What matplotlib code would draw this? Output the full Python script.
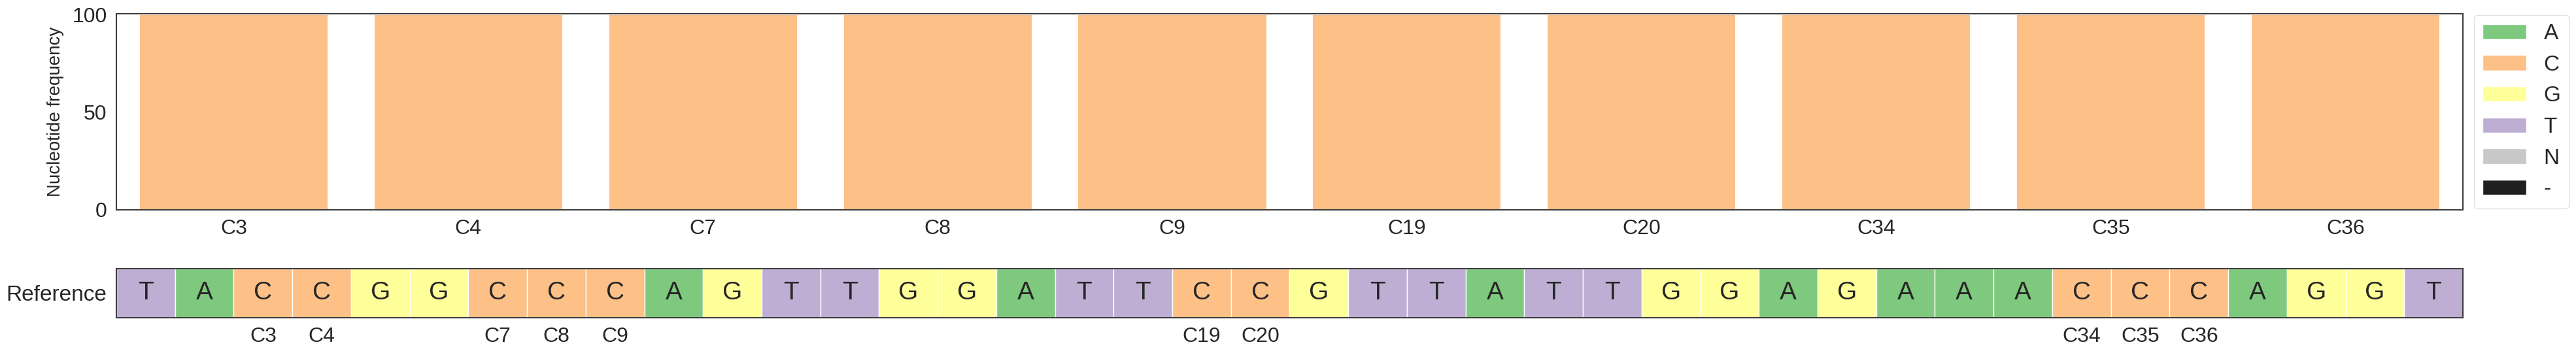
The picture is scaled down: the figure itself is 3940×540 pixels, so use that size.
import matplotlib
matplotlib.use("Agg")
import matplotlib.pyplot as plt
from matplotlib.patches import Patch

plt.rcParams.update({
    "font.family": ["Liberation Sans", "DejaVu Sans"],
    "text.color": "#262626",
    "axes.labelcolor": "#262626",
    "xtick.color": "#262626",
    "ytick.color": "#262626",
    "axes.edgecolor": "#3d3d3d",
    "axes.linewidth": 1.5,
})

# edited positions shown in the frequency panel
positions = ["C3", "C4", "C7", "C8", "C9", "C19", "C20", "C34", "C35", "C36"]

# nucleotide frequency (%) at each position
freq_A = [0, 0, 0, 0, 0, 0, 0, 0, 0, 0]
freq_C = [100, 100, 100, 100, 100, 100, 100, 100, 100, 100]
freq_G = [0, 0, 0, 0, 0, 0, 0, 0, 0, 0]
freq_T = [0, 0, 0, 0, 0, 0, 0, 0, 0, 0]
freq_N = [0, 0, 0, 0, 0, 0, 0, 0, 0, 0]
freq_gap = [0, 0, 0, 0, 0, 0, 0, 0, 0, 0]

reference_seq = "TACCGGCCCAGTTGGATTCCGTTATTGGAGAAACCCAGGT"

bases = ["A", "C", "G", "T", "N", "-"]
base_colors = {
    "A": "#7fc97f",
    "C": "#fdc086",
    "G": "#ffff99",
    "T": "#beaed4",
    "N": "#c8c8c8",
    "-": "#1f1f1f",
}

fig = plt.figure(figsize=(39.4, 5.4), dpi=100)
ax = fig.add_axes([0.04518, 0.4061, 0.9109, 0.5556])
ax_ref = fig.add_axes([0.04518, 0.1, 0.9109, 0.1389])

# stacked frequency bars
x = list(range(len(positions)))
bottom = [0] * len(positions)
for b, vals in zip(bases, [freq_A, freq_C, freq_G, freq_T, freq_N, freq_gap]):
    ax.bar(x, vals, width=0.8, bottom=bottom, color=base_colors[b], linewidth=0)
    bottom = [p + v for p, v in zip(bottom, vals)]

ax.set_xlim(-0.5, len(positions) - 0.5)
ax.set_ylim(0, 100.7)
ax.set_yticks([0, 50, 100])
ax.set_xticks(x)
ax.set_xticklabels(positions)
ax.tick_params(axis="both", length=0, labelsize=23)
ax.tick_params(axis="x", pad=10)
ax.tick_params(axis="y", pad=10.5)
ax.set_ylabel("Nucleotide frequency", fontsize=20, labelpad=9)

handles = [Patch(facecolor=base_colors[b], edgecolor="white", label=b) for b in bases]
leg = ax.legend(handles=handles, loc="upper left", bbox_to_anchor=(1.0047, 0.993),
                borderaxespad=0, fontsize=24, frameon=True, fancybox=True)
leg.get_frame().set_edgecolor("0.85")

# reference sequence track
ref_x = list(range(len(reference_seq)))
ax_ref.bar(ref_x, [1] * len(reference_seq), width=1, bottom=0,
           color=[base_colors[b] for b in reference_seq], edgecolor="white", linewidth=1)
for i, b in enumerate(reference_seq):
    ax_ref.text(i, 0.5, b, ha="center", va="center", fontsize=28, color="#262626")

ax_ref.set_xlim(-0.5, len(reference_seq) - 0.5)
ax_ref.set_ylim(0, 1)
ax_ref.set_yticks([0.5])
ax_ref.set_yticklabels(["Reference"], fontsize=24)
ax_ref.set_xticks([int(p[1:]) - 1 for p in positions])
ax_ref.set_xticklabels(positions, fontsize=23)
ax_ref.tick_params(axis="both", length=0)
ax_ref.tick_params(axis="x", pad=10)
ax_ref.tick_params(axis="y", pad=10.5)

fig.savefig("out.png", dpi=100)
